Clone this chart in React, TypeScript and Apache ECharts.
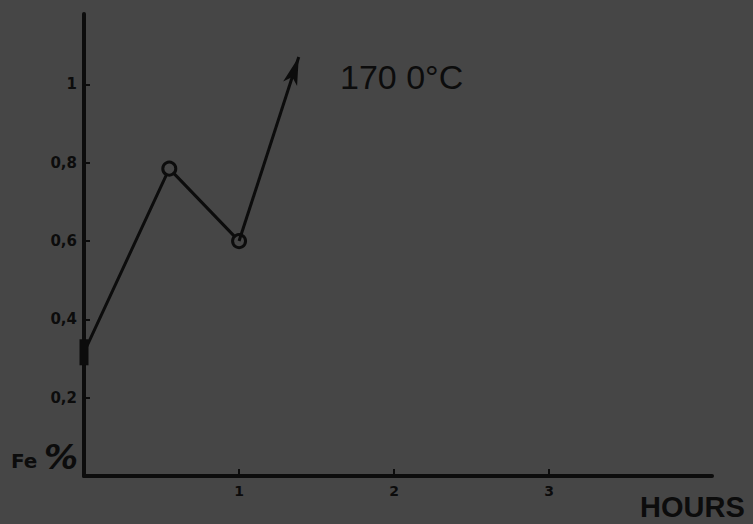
import React, { useEffect, useRef } from "react";
import * as echarts from "echarts";

const hours = [0, 0.55, 1.0];
const fePercent = [0.316, 0.785, 0.6];
const arrowFrom = [1.0, 0.6];
const arrowTo = [1.385, 1.07];
const xTickValues = [1, 2, 3];
const xTickLabels = ["1", "2", "3"];
const yTickLabels = ["0,2", "0,4", "0,6", "0,8", "1"];
const curveLabel = "170 0°C";
const xTitle = "HOURS";

const BG = "#464646";
const INK = "#0c0c0c";

export default function App() {
  const ref = useRef<HTMLDivElement>(null);
  useEffect(() => {
    if (!ref.current) return;
    const chart = echarts.init(ref.current, undefined, { renderer: "svg" });
    const symbols = ["rect", "circle", "circle"];
    const sizes: any[] = [[9, 26], 13, 13];
    chart.setOption({
      animation: false,
      backgroundColor: BG,
      grid: { left: 84, right: 41, top: 14, bottom: 48, containLabel: false },
      xAxis: {
        type: "value",
        min: 0,
        max: 4.05,
        interval: 1,
        axisLine: { show: true, lineStyle: { color: INK, width: 4 } },
        axisTick: {
          show: true,
          inside: true,
          length: 7,
          customValues: xTickValues,
          lineStyle: { color: INK, width: 2 },
        },
        splitLine: { show: false },
        axisLabel: {
          color: INK,
          fontSize: 14,
          fontWeight: "bold",
          fontFamily: "DejaVu Sans",
          margin: 8,
          customValues: xTickValues,
          formatter: (v: number) => xTickLabels[xTickValues.indexOf(v)] ?? "",
        },
      },
      yAxis: {
        type: "value",
        min: 0,
        max: 1.18,
        interval: 0.2,
        axisLine: { show: true, lineStyle: { color: INK, width: 4 } },
        axisTick: { show: true, inside: true, length: 6, lineStyle: { color: INK, width: 2 } },
        splitLine: { show: false },
        axisLabel: {
          color: INK,
          fontSize: 15,
          fontWeight: "bold",
          fontFamily: "DejaVu Sans",
          margin: 7,
          showMaxLabel: false,
          formatter: (v: number) => {
            const i = Math.round(v / 0.2);
            if (Math.abs(v - i * 0.2) > 1e-6 || i < 1 || i > 5) return "";
            return yTickLabels[i - 1];
          },
        },
      },
      series: [
        {
          type: "line",
          data: hours.map((h, i) => ({
            value: [h, fePercent[i]],
            symbol: symbols[i],
            symbolSize: sizes[i],
            itemStyle:
              i === 0
                ? { color: INK, borderColor: INK, borderWidth: 0 }
                : { color: BG, borderColor: INK, borderWidth: 3 },
          })),
          lineStyle: { color: INK, width: 3 },
          z: 3,
          markLine: {
            silent: true,
            symbol: ["none", "arrow"],
            symbolSize: [11, 28],
            label: { show: false },
            lineStyle: { color: INK, width: 3, type: "solid" },
            itemStyle: { color: INK },
            data: [[{ coord: arrowFrom }, { coord: arrowTo }]],
          },
        },
      ],
      graphic: [
        {
          type: "text",
          left: 340,
          top: 60,
          style: { text: curveLabel, fill: INK, font: "34px 'Liberation Sans'" },
        },
        {
          type: "text",
          left: 640,
          top: 492,
          style: { text: xTitle, fill: INK, font: "bold 29px 'Liberation Sans'" },
        },
        {
          type: "text",
          left: 11,
          top: 451,
          style: { text: "Fe", fill: INK, font: "bold 20px 'DejaVu Sans'" },
        },
        {
          type: "text",
          left: 44,
          top: 440,
          style: { text: "%", fill: INK, font: "italic bold 34px 'DejaVu Sans'" },
        },
      ],
    });
    return () => chart.dispose();
  }, []);
  return <div ref={ref} style={{ width: 753, height: 524, position: "absolute", left: 0, top: 0 }} />;
}
